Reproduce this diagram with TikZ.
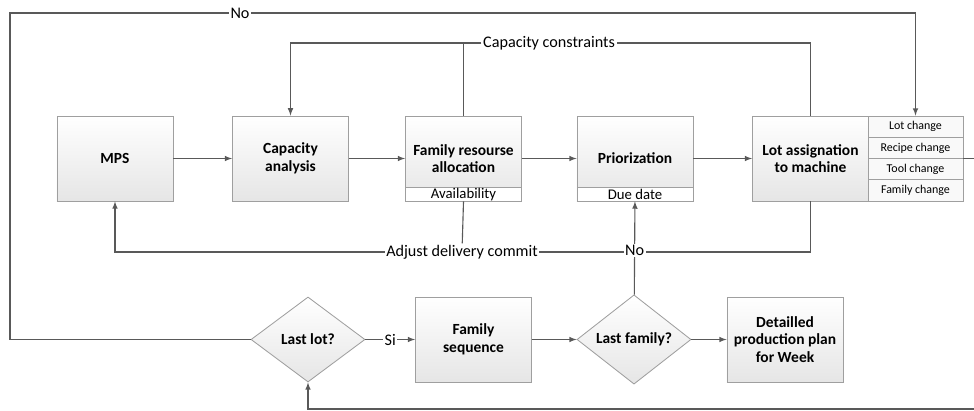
\documentclass[tikz,border=0pt]{standalone}
\usepackage{fontspec}
\setmainfont{Carlito}
\usetikzlibrary{shapes.geometric}

\begin{document}
\begin{tikzpicture}[x=0.025cm,y=-0.025cm,>=latex,
  box/.style={shape=rectangle,draw=gray!75,line width=0.6pt,top color=white,bottom color=gray!20,minimum width=2.9cm,minimum height=2.125cm,align=center,inner sep=1pt,font=\fontsize{11}{12.5}\selectfont\bfseries},
  decision/.style={shape=diamond,draw=gray!75,line width=0.6pt,top color=white,bottom color=gray!20,minimum width=2.85cm,minimum height=2.125cm,inner sep=0pt,font=\fontsize{11}{12.5}\selectfont\bfseries},
  subbox/.style={shape=rectangle,draw=gray!75,line width=0.6pt,fill=white,minimum width=2.9cm,minimum height=0.33cm,inner sep=0pt,font=\fontsize{10.5}{10}\selectfont},
  cell/.style={shape=rectangle,draw=gray!75,line width=0.6pt,fill=gray!5,minimum width=2.375cm,minimum height=0.53cm,inner sep=0pt,font=\fontsize{8.5}{9}\selectfont},
  lbl/.style={fill=white,inner sep=1pt,font=\fontsize{11.5}{12}\selectfont},
  flow/.style={draw=black!65,line width=0.8pt}]
\useasboundingbox (0,0) rectangle (974,411);

\path (115,158.5) node (mps) [box] {MPS};
\path (290.5,158.5) node (capan) [box] {Capacity\\analysis};
\path (463.5,158.5) node (fra) [box] {Family resourse\\allocation};
\path (fra.south) node (avail) [subbox,anchor=south] {Availability};
\path (635,158.5) node (prio) [box] {Priorization};
\path (prio.south) node (duedate) [subbox,anchor=south] {Due date};
\path (810.5,158.5) node (lot) [box] {Lot assignation\\to machine};
\path (915.5,126.6) node (lotr1) [cell] {Lot change};
\path (915.5,147.9) node (lotr2) [cell] {Recipe change};
\path (915.5,169.1) node (lotr3) [cell] {Tool change};
\path (915.5,190.4) node (lotr4) [cell] {Family change};

\path (308,339.5) node (lastlot) [decision] {Last lot?};
\path (473.5,339.5) node (famseq) [box] {Family\\sequence};
\path (634,339.5) node (lastfam) [decision] {Last family?};
\path (785,339.5) node (detplan) [box] {Detailled\\production plan\\for Week};

\path (240,13) node (nolbl) [lbl] {No};
\path (549,43) node (cclbl) [lbl] {Capacity constraints};
\path (462,252) node (adjlbl) [lbl] {Adjust delivery commit};
\coordinate (nwc) at (10,13);
\coordinate (outr) at (995,409);

% main line
\draw [flow,->] (mps) to (capan);
\draw [flow,->] (capan) to (fra);
\draw [flow,->] (fra) to (prio);
\draw [flow,->] (prio) to (lot);

% capacity constraints loop
\draw [flow] (lot.north) |- (cclbl);
\draw [flow] (fra.north) -- (fra.north |- cclbl);
\draw [flow,->] (cclbl) -| (capan.north);

% adjust delivery commit loop
\draw [flow] (lot.south) |- (adjlbl);
\draw [flow] (avail.south) -- (adjlbl);
\draw [flow,->] (adjlbl) -| (mps.south);

% bottom row
\draw [flow,->] (lastlot) to node [lbl] {Si} (famseq);
\draw [flow,->] (famseq) to (lastfam);
\draw [flow,->] (lastfam) to (detplan);
\draw [flow,->] (lastfam) to node [lbl,pos=0.47] {No} (duedate);

% outer loops
\draw [flow] (lastlot.west) -| (nwc) -- (nolbl);
\draw [flow,->] (nolbl) -| (lotr1.north);
\draw [flow,->] (lotr2.south east) -| (outr) -| (lastlot.south);
\end{tikzpicture}
\end{document}
